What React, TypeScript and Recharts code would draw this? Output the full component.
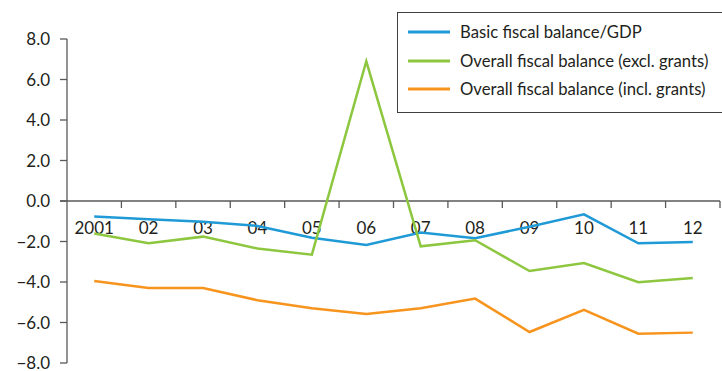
import React from 'react';
import { LineChart, Line, XAxis, YAxis, ReferenceLine, Legend } from 'recharts';

const years = ['2001', '02', '03', '04', '05', '06', '07', '08', '09', '10', '11', '12'];
const basicBalance = [-0.77, -0.9, -1.02, -1.23, -1.81, -2.17, -1.56, -1.84, -1.27, -0.66, -2.09, -2.02];
const overallExclGrants = [-1.61, -2.09, -1.76, -2.35, -2.65, 6.9, -2.24, -1.94, -3.46, -3.06, -4.01, -3.8];
const overallInclGrants = [-3.95, -4.3, -4.3, -4.9, -5.3, -5.58, -5.3, -4.82, -6.47, -5.38, -6.55, -6.5];
const yTicks = [-8, -6, -4, -2, 0, 2, 4, 6, 8];

const seriesNames = {
  basic: 'Basic fiscal balance/GDP',
  excl: 'Overall fiscal balance (excl. grants)',
  incl: 'Overall fiscal balance (incl. grants)',
};

const data = years.map((year, i) => ({
  year,
  basic: basicBalance[i],
  excl: overallExclGrants[i],
  incl: overallInclGrants[i],
}));

const FONT = 'Lato, "Open Sans", sans-serif';
const AXIS = '#595959';
const TEXT = '#231f20';

const fmt = (v: number) => (v < 0 ? '\u2212' + Math.abs(v).toFixed(1) : v.toFixed(1));

// Category axis drawn along the zero line, with ticks between years and labels under it
const ZeroAxis = (props: any) => {
  const { x1, x2, y1 } = props;
  const band = (x2 - x1) / years.length;
  return (
    <g>
      <line x1={x1 - 7} x2={x2} y1={y1} y2={y1} stroke={AXIS} strokeWidth={1.3} />
      {years.map((_, k) => (
        <line
          key={'t' + k}
          x1={x1 + (k + 1) * band}
          x2={x1 + (k + 1) * band}
          y1={y1}
          y2={y1 + 7}
          stroke={AXIS}
          strokeWidth={1.3}
        />
      ))}
      {years.map((label, k) => (
        <text
          key={'l' + k}
          x={x1 + (k + 0.5) * band}
          y={y1 + 33}
          textAnchor="middle"
          fill={TEXT}
          fontSize={17}
          fontFamily={FONT}
        >
          {label}
        </text>
      ))}
    </g>
  );
};

const LegendBox = (props: any) => {
  const items = props.payload || [];
  return (
    <div
      style={{
        border: '1.3px solid #404040',
        background: '#fff',
        boxSizing: 'border-box',
        width: 330,
        height: 101,
        padding: '5px 0 0 10px',
        fontFamily: FONT,
        fontSize: 16.7,
        color: TEXT,
      }}
    >
      {items.map((it: any) => (
        <div key={it.value} style={{ display: 'flex', alignItems: 'center', height: 28.5 }}>
          <svg width={42} height={4} style={{ marginRight: 10, flex: 'none' }}>
            <line x1={0} x2={42} y1={2} y2={2} stroke={it.color} strokeWidth={3} />
          </svg>
          <span style={{ whiteSpace: 'nowrap' }}>{it.value}</span>
        </div>
      ))}
    </div>
  );
};

export default function App() {
  return (
    <div style={{ position: 'absolute', left: 0, top: 0, width: 722, height: 371, background: '#fff' }}>
      <LineChart width={722} height={371} data={data} margin={{ top: 39, right: 2, bottom: 8, left: 0 }}>
        <XAxis dataKey="year" scale="band" hide />
        <YAxis
          width={67}
          domain={[-8, 8]}
          ticks={yTicks}
          tickFormatter={fmt}
          interval={0}
          axisLine={{ stroke: AXIS, strokeWidth: 1.3 }}
          tickLine={{ stroke: AXIS, strokeWidth: 1.3 }}
          tickSize={7}
          tickMargin={10}
          tick={{ fill: TEXT, fontSize: 17, fontFamily: FONT }}
        />
        <ReferenceLine y={0} shape={ZeroAxis} />
        <Legend
          layout="horizontal"
          verticalAlign="middle"
          align="center"
          content={LegendBox}
          wrapperStyle={{ position: 'absolute', left: 397, top: 12, width: 330, height: 101 }}
        />
        <Line dataKey="basic" name={seriesNames.basic} stroke="#1f9ad6" strokeWidth={2.5} dot={false} isAnimationActive={false} />
        <Line dataKey="excl" name={seriesNames.excl} stroke="#8dc63f" strokeWidth={2.5} dot={false} isAnimationActive={false} />
        <Line dataKey="incl" name={seriesNames.incl} stroke="#f7941d" strokeWidth={2.5} dot={false} isAnimationActive={false} />
      </LineChart>
    </div>
  );
}
